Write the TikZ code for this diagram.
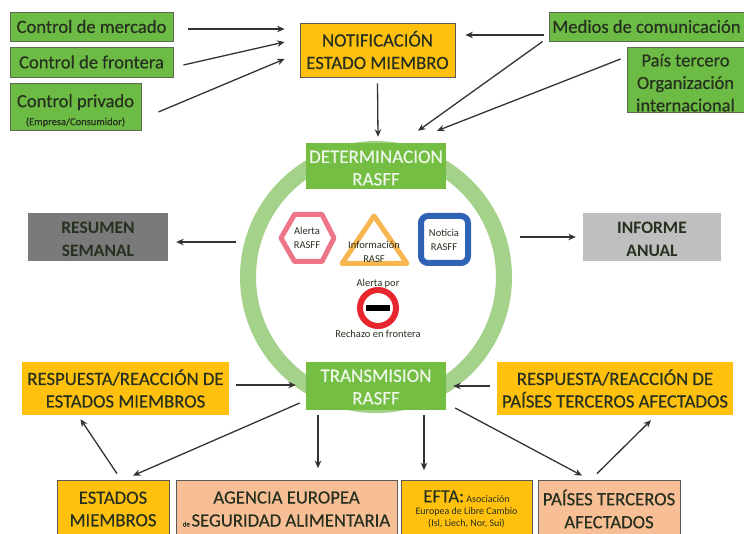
\documentclass[tikz,border=0pt]{standalone}
\usepackage{fontspec}
\setmainfont{Carlito}
\newfontfamily\heavy{Carlito}[FakeBold=0.35]
\usetikzlibrary{arrows.meta,calc}
\definecolor{gbox}{HTML}{6CBB45}
\definecolor{gtitle}{HTML}{74BE44}
\definecolor{gring}{HTML}{A5D28A}
\definecolor{gedge}{HTML}{5A6B50}
\definecolor{oran}{HTML}{FFC10E}
\definecolor{salm}{HTML}{F8BE95}
\definecolor{dtext}{HTML}{26301F}
\definecolor{arrowc}{HTML}{333333}
\definecolor{hexc}{HTML}{EE7587}
\definecolor{tric}{HTML}{F7B64F}
\definecolor{bluec}{HTML}{2E63B5}
\definecolor{redc}{HTML}{E8262D}
\tikzset{
 basebox/.style={rectangle,inner sep=0pt,align=center,text=dtext,font=\heavy\fontsize{18.6}{24}\selectfont},
 greenbox/.style={basebox,fill=gbox,draw=gedge,line width=.8pt},
 titlebox/.style={basebox,fill=gtitle,text=white!88!gtitle,font=\heavy\fontsize{19}{22.5}\selectfont},
 yellowbox/.style={basebox,fill=oran,font=\heavy\fontsize{18.7}{22.5}\selectfont},
 yellowedge/.style={yellowbox,draw=gray!70!black,line width=.8pt},
 salmonbox/.style={basebox,fill=salm,draw=gray!70!black,line width=.8pt,font=\heavy\fontsize{18.7}{23}\selectfont},
 greybox/.style={basebox,font=\bfseries\fontsize{17.5}{23}\selectfont},
 smalltext/.style={inner sep=0pt,align=center,text=dtext,font=\fontsize{10.5}{14}\selectfont},
 arr/.style={draw=arrowc,line width=1.3pt,-{Stealth[length=7.5pt,width=6.5pt]}}
}
\begin{document}
\begin{tikzpicture}[x=1pt,y=-1pt]
\useasboundingbox (0,0) rectangle (744,534);
% ring
\node[circle,draw=gring,line width=16pt,minimum size=256pt,inner sep=0pt] (ring) at (376,277) {};
% top left
\node[greenbox,minimum width=163pt,minimum height=29pt] (cm) at (91.5,26.5) {Control de mercado};
\node[greenbox,minimum width=163pt,minimum height=30pt] (cf) at (91.5,62) {Control de frontera};
\node[greenbox,minimum width=131pt,minimum height=47pt,font=\heavy\fontsize{18.6}{18}\selectfont] (cp) at (75.5,106.5) {\rule{0pt}{21pt}Control privado\\{\fontsize{10.5}{11}\selectfont (Empresa/Consumidor)}};
% notification
\node[yellowedge,minimum width=155pt,minimum height=54pt] (notif) at (377.5,50) {NOTIFICACIÓN\\ESTADO MIEMBRO};
% top right
\node[greenbox,minimum width=195pt,minimum height=29pt] (med) at (646.5,26.5) {Medios de comunicación};
\node[greenbox,minimum width=117pt,minimum height=65pt,font=\heavy\fontsize{18.5}{22.5}\selectfont] (pais) at (685.5,79.5) {\rule{0pt}{19pt}País tercero\\Organización\\internacional};
% titles
\node[titlebox,minimum width=140pt,minimum height=46pt] (det) at (376,166) {\rule{0pt}{16.5pt}DETERMINACION\\RASFF};
\node[titlebox,minimum width=140pt,minimum height=48pt] (tra) at (376,386) {\rule{0pt}{14.5pt}TRANSMISION\\RASFF};
% side boxes
\node[greybox,fill=black!52,minimum width=140pt,minimum height=48pt] (res) at (98,237) {\rule{0pt}{16pt}RESUMEN\\SEMANAL};
\node[greybox,fill=black!25,minimum width=138pt,minimum height=48pt] (inf) at (652,237) {\rule{0pt}{16pt}INFORME\\ANUAL};
% signs
\draw[hexc,line width=5pt,line join=round] (281,238) -- (294.5,214.5) -- (322,214.5) -- (334,238) -- (322,261.5) -- (294.5,261.5) -- cycle;
\node[smalltext] (halert) at (307,238) {Alerta\\RASFF};
\draw[tric,line width=5pt,line join=round] (374,216) -- (407,263.5) -- (342,263.5) -- cycle;
\node[smalltext] (tinfo) at (374,252) {Información\\RASF};
\draw[bluec,line width=6pt,rounded corners=7pt] (421,216) rectangle (468,263);
\node[smalltext] (nnot) at (444,240) {Noticia\\RASFF};
\draw[redc,line width=6pt] (378,308) circle (18pt);
\fill[black] (366,305) rectangle (390,311);
\node[smalltext] (aper) at (378,284) {Alerta por};
\node[smalltext] (rech) at (378,334) {Rechazo en frontera};
% lower boxes
\node[yellowbox,minimum width=207pt,minimum height=53pt] (rl) at (125.5,388.5) {RESPUESTA/REACCIÓN DE\\ESTADOS MIEMBROS};
\node[yellowbox,minimum width=236pt,minimum height=53pt] (rr) at (615,388.5) {RESPUESTA/REACCIÓN DE\\PAÍSES TERCEROS AFECTADOS};
\node[yellowedge,minimum width=112pt,minimum height=58pt] (em) at (113,509) {ESTADOS\\MIEMBROS};
\node[salmonbox,minimum width=221pt,minimum height=58pt] (age) at (286.5,509) {AGENCIA EUROPEA\\{\fontsize{7}{8}\selectfont de }SEGURIDAD ALIMENTARIA};
\node[yellowedge,minimum width=131pt,minimum height=58pt,font=\fontsize{10}{12}\selectfont] (efta) at (466.5,509) {{\heavy\fontsize{18.5}{20}\selectfont EFTA:} Asociación\\Europea de Libre Cambio\\(Isl, Liech, Nor, Sui)};
\node[salmonbox,minimum width=142pt,minimum height=58pt] (pta) at (609,509) {PAÍSES TERCEROS\\AFECTADOS};
% connectors
\draw[arr] ([shift={(15,2.5)}]cm.east) -- ([shift={(-15,-21)}]notif.west);
\draw[arr] ([shift={(10,3)}]cf.east) -- ([shift={(-15,-8)}]notif.west);
\draw[arr] ([shift={(17,5.5)}]cp.east) -- ([shift={(-15,9)}]notif.west);
\draw[arr] ([yshift=-6pt]notif.south) -- ([shift={(0.5,-6)}]notif.south |- det.north);
\draw[arr] ([shift={(-5,8.5)}]med.west) -- ([shift={(10,-15)}]notif.east);
\draw[arr] ([shift={(-6,15)}]med.west) -- ([shift={(42,-12)}]det.north);
\draw[arr] ([shift={(-6,-20.5)}]pais.west) -- ([shift={(61,-12)}]det.north);
\draw[arr] ([shift={(68,5)}]res.east) -- ([shift={(8,5)}]res.east);
\draw[arr] ([shift={(-63,0)}]inf.west) -- ([shift={(-7,0)}]inf.west);
\draw[arr] ([shift={(7,-3.5)}]rl.east) -- ([shift={(-10,-1)}]tra.west);
\draw[arr] ([shift={(-7,-2.5)}]rr.west) -- ([shift={(7,0)}]tra.east);
\draw[arr] ([shift={(-6,17)}]tra.west) -- ([shift={(20,-4)}]em.north);
\draw[arr] ([shift={(-58,5)}]tra.south) -- ([shift={(-58,58)}]tra.south);
\draw[arr] ([shift={(48,5)}]tra.south) -- ([shift={(48,60)}]tra.south);
\draw[arr] ([shift={(9,22)}]tra.east) -- ([shift={(-27,-4)}]pta.north);
\draw[arr] ([shift={(4,-6)}]em.north) -- ([shift={(-45,4)}]rl.south);
\draw[arr] ([shift={(-12,-6)}]pta.north) -- ([shift={(36,5)}]rr.south);
\end{tikzpicture}
\end{document}
